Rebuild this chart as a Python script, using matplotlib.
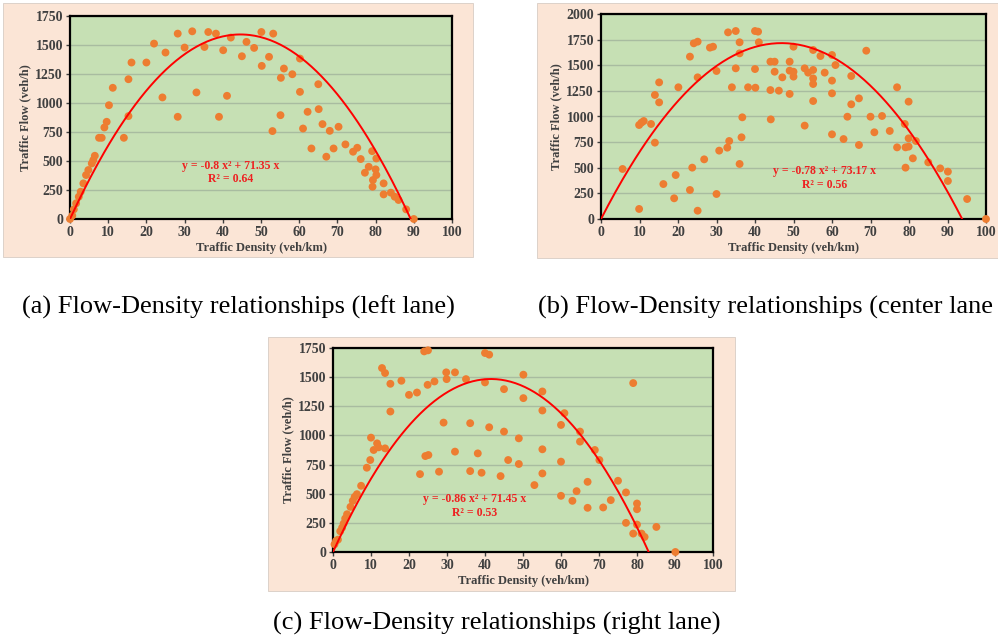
# Flow-density scatter plots for the three lanes, with quadratic trend lines
import numpy as np
import matplotlib
matplotlib.use("Agg")
import matplotlib.pyplot as plt
from matplotlib.patches import Rectangle

# ---- data ----
dens_left = [0, 0.6, 1, 1.6, 2.3, 2.8, 3.5, 4.2, 4.8, 5.7, 6.1, 6.5, 7.6, 8.3, 9, 9.6, 10.2, 11.2,
             14.1, 15.3, 15.3, 16.1, 20, 22, 24.2, 25, 28.2, 28.2, 30, 32, 33.1, 35.2, 36.2, 38.2,
             39, 40.1, 41.1, 42.1, 45, 46.2, 48.2, 50.1, 50.2, 52.1, 53, 53.2, 55.1, 55.2, 56, 58.2,
             60.2, 60.2, 61, 62.2, 63.2, 65, 65.1, 66.1, 67.1, 68, 69, 70.3, 72.1, 74.1, 75.2, 76.1,
             77.2, 78.2, 79.1, 79.3, 79.2, 80, 80.2, 80.2, 82.1, 82.1, 84, 85, 86, 88, 90]
flow_left = [0, 29, 83, 135, 192, 235, 307, 379, 422, 479, 508, 545, 700, 700, 789, 838, 981, 1131,
             700, 887, 1205, 1349, 1349, 1512, 1048, 1435, 881, 1598, 1478, 1618, 1091, 1483, 1612, 1598,
             881, 1455, 1062, 1564, 1403, 1527, 1475, 1612, 1320, 1398, 758, 1598, 895, 1217, 1297, 1248,
             1383, 1096, 780, 924, 608, 1162, 947, 818, 537, 760, 608, 795, 643, 580, 614, 517,
             399, 450, 585, 336, 278, 428, 522, 379, 307, 212, 227, 192, 164, 83, 0]

dens_center = [5.6, 9.9, 9.9, 10.5, 11.1, 13, 14, 14, 15.1, 15.1, 16.2, 19, 19.4, 20.1, 23.1, 23.1,
               23.7, 24.1, 25.1, 25.1, 25.1, 26.8, 28.3, 29.1, 30, 30, 30.7, 32.8, 33.3, 33, 34, 35,
               35, 36, 36, 36, 36.5, 38.2, 36.7, 40, 40.8, 40, 40.1, 41, 44, 45.1, 44, 44.1, 45.1,
               46.2, 47.1, 49, 49, 49, 50, 50, 50, 52.9, 52.9, 53.8, 55.1, 55.1, 55.1, 55.1, 55.1,
               57, 58.1, 60, 60, 60, 60, 60.9, 63, 64, 65, 65, 67, 67, 68.9, 70, 71, 73, 75, 76.9,
               76.9, 78.9, 79.1, 79.1, 79.9, 79.9, 79.9, 81, 81.8, 85, 88.1, 90.1, 90.1, 95.1, 100]
flow_center = [488, 98, 917, 940, 956, 927, 1210, 745, 1333, 1138, 341, 202, 429, 1285, 283, 1584,
               501, 1714, 1730, 1382, 81, 582, 1672, 1681, 1444, 244, 667, 696, 761, 1821, 1285, 1834,
               1470, 1724, 1616, 537, 797, 1285, 992, 1834, 1828, 1463, 1281, 1724, 1535, 1535, 1258, 972, 1437,
               1252, 1382, 1535, 1447, 1220, 1681, 1437, 1389, 911, 1470, 1428, 1649, 1454, 1372, 1317, 1151,
               1590, 1428, 1600, 1350, 1226, 826, 1502, 780, 998, 1395, 1119, 1177, 722, 1642, 998, 846, 1005, 859, 1285,
               699, 927, 699, 501, 1145, 787, 706, 592, 761, 553, 494, 462, 371, 195, 0]

dens_right = [0.4, 0.8, 1.3, 1.9, 2.4, 2.8, 3.2, 3.7, 4.6, 5.2, 5.7, 6.3, 7.4, 8.9, 9.8, 10, 10.7,
              11.6, 12, 13.7, 12.9, 13.7, 15.1, 15.1, 18, 20, 22.1, 22.9, 24, 25, 24.3, 25.1, 24.9,
              26.7, 27.9, 29.1, 29.8, 29.9, 32.1, 32.1, 35, 36.1, 36.1, 38.1, 39.1, 40, 40, 41.1,
              41.1, 44.1, 45, 45, 46.1, 48.9, 48.9, 50.1, 50.1, 53, 55.1, 55.1, 55.1, 55.1, 60, 60,
              60, 60.9, 63, 64.1, 65, 65, 67, 67, 68.9, 70.1, 71.1, 73.1, 75, 77.1, 77.1, 79, 79, 80,
              80, 80, 81.2, 82, 85.1, 90.1]
flow_right = [66, 95, 106, 178, 209, 244, 287, 324, 387, 439, 473, 496, 568, 723, 789, 981, 875,
              932, 898, 889, 1578, 1535, 1443, 1205, 1469, 1348, 1368, 668, 1721, 1730, 823, 832, 1434,
              1463, 689, 1110, 1541, 1483, 1541, 861, 1483, 1105, 694, 846, 680, 1455, 1707, 1693,
              1070, 651, 1397, 1033, 789, 975, 755, 1521, 1320, 574, 1377, 1214, 881, 674, 1090, 775,
              482, 1191, 439, 522, 1033, 947, 602, 379, 875, 789, 382, 445, 611, 511, 250, 1449, 158, 416,
              367, 235, 158, 129, 215, 0]

# trend line coefficients y = a x^2 + b x, and R^2
coef_left = (-0.8, 71.35, 0.64)
coef_center = (-0.78, 73.17, 0.56)
coef_right = (-0.86, 71.45, 0.53)

# captions as they appear (the (b) one runs to the page edge in the source)
captions = ["(a) Flow-Density relationships (left lane)",
            "(b) Flow-Density relationships (center lane",
            "(c) Flow-Density relationships (right lane)"]

W, H = 998, 637
fig = plt.figure(figsize=(W / 100, H / 100), dpi=100)
fig.patch.set_facecolor("white")

serif = "Liberation Serif"
tick_col = "#404040"


def px_box(x0, y0, x1, y1):
    # pixel box (top-left origin) -> figure fraction [left, bottom, width, height]
    return [x0 / W, 1 - y1 / H, (x1 - x0) / W, (y1 - y0) / H]


def panel(bg, axbox, dens, flow, coef, ymax, eq_pos):
    fig.add_artist(Rectangle(bg[:2], bg[2], bg[3], transform=fig.transFigure,
                             facecolor="#fbe5d6", edgecolor="#d8ccc4", lw=0.6, zorder=-1))
    ax = fig.add_axes(axbox)
    ax.set_facecolor("#c6e0b4")
    ax.set_xlim(0, 100)
    ax.set_ylim(0, ymax)
    ax.set_xticks(np.arange(0, 101, 10))
    ax.set_yticks(np.arange(0, ymax + 1, 250))
    ax.yaxis.grid(True, color="#a8bca0", lw=1)
    ax.set_axisbelow(True)
    for s in ax.spines.values():
        s.set_color("black")
        s.set_linewidth(1.6)
    ax.tick_params(direction="out", length=3, width=1, pad=2, colors=tick_col)
    for lab in ax.get_xticklabels() + ax.get_yticklabels():
        lab.set_fontfamily(serif)
        lab.set_fontweight("bold")
        lab.set_fontsize(10)
    ax.scatter(dens, flow, s=32, color="#ed7d31", edgecolors="none", zorder=3, clip_on=False)
    a, b, r2 = coef
    xx = np.linspace(0, -b / a, 200)
    ax.plot(xx, a * xx ** 2 + b * xx, color="#ff0000", lw=1.4, zorder=4)
    ax.text(eq_pos[0], eq_pos[1], f"y = {a} x² + {b} x\nR² = {r2}", ha="center", va="center",
            color="#ee2222", fontsize=8.5, fontweight="bold", family=serif, linespacing=1.2, zorder=5)
    ax.set_xlabel("Traffic Density (veh/km)", fontsize=9, fontweight="bold", family=serif,
                  color=tick_col, labelpad=2)
    ax.set_ylabel("Traffic Flow (veh/h)", fontsize=9, fontweight="bold", family=serif,
                  color=tick_col, labelpad=3)
    return ax


panel(px_box(3, 3, 473, 257), px_box(70, 16, 452, 219), dens_left, flow_left, coef_left, 1750, (42, 400))
panel(px_box(537, 3, 998, 258), px_box(601, 14, 986, 219), dens_center, flow_center, coef_center, 2000, (58, 400))
panel(px_box(268, 337, 735, 591), px_box(333, 348, 713, 552), dens_right, flow_right, coef_right, 1750, (37.4, 395))

fig.text(22 / W, 1 - 307 / H, captions[0], ha="left", va="center", family=serif, fontsize=19)
fig.text(538 / W, 1 - 307 / H, captions[1], ha="left", va="center", family=serif, fontsize=19)
fig.text(497 / W, 1 - 623 / H, captions[2], ha="center", va="center", family=serif, fontsize=19)

fig.savefig("out.png", dpi=100)
